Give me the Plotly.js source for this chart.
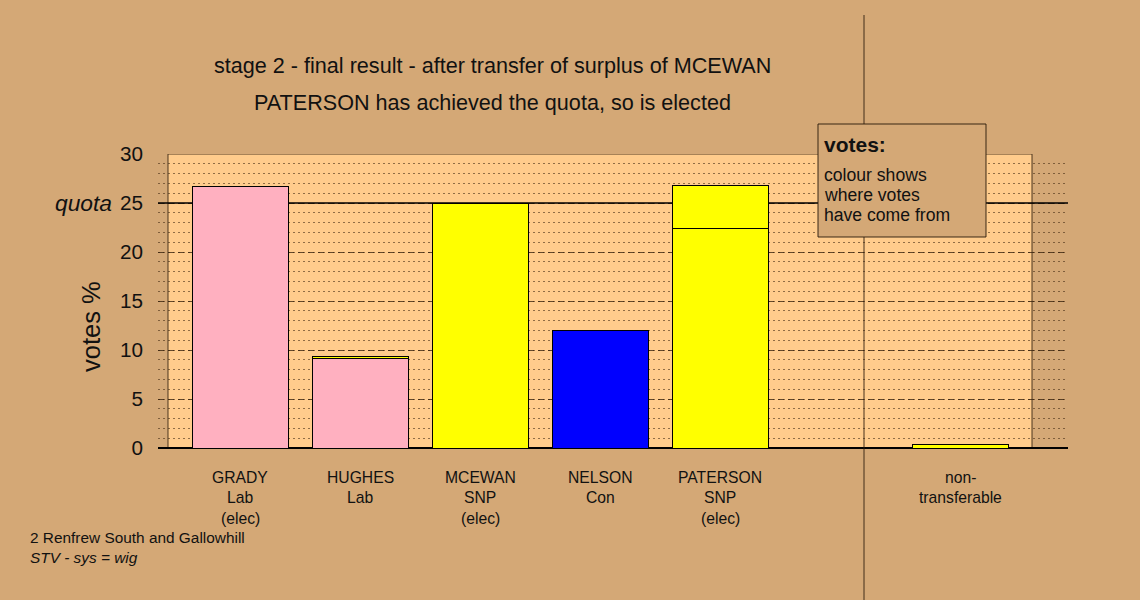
<!DOCTYPE html>
<html>
<head>
<meta charset="utf-8">
<script src="https://cdn.plot.ly/plotly-3.0.1.min.js"></script>
<style>html,body{margin:0;padding:0;background:#D4A876;}</style>
</head>
<body>
<div id="chart" style="width:1140px;height:600px;"></div>
<script>
// ---- data ----
const categoryPos = [1, 2, 3, 4, 5, 7];
const categoryLines = [
  ["GRADY", "Lab", "(elec)"],
  ["HUGHES", "Lab"],
  ["MCEWAN", "SNP", "(elec)"],
  ["NELSON", "Con"],
  ["PATERSON", "SNP", "(elec)"],
  ["non-", "transferable"]
];
const baseVotes = [26.7, 9.1, 25.0, 11.95, 22.4, null];
const baseColours = ["#FFB0C0", "#FFB0C0", "#FFFF00", "#0000FF", "#FFFF00", "#FFFF00"];
const transferVotes = [null, 0.25, null, 0.08, 4.4, 0.35];
const transferColour = "#FFFF00";
const quota = 25;
const yTicks = [0, 5, 10, 15, 20, 25, 30];
const titleLines = ["stage 2 - final result - after transfer of surplus of MCEWAN",
                    "PATERSON has achieved the quota, so is elected"];
const legendTitle = "votes:";
const legendLines = ["colour shows", "where votes", "have come from"];
const footLines = ["2 Renfrew South and Gallowhill", "<i>STV - sys = wig</i>"];

// ---- helpers (pixel -> paper) ----
const L = 158, R = 1068, T = 154, B = 448;
const px = x => (x - L) / (R - L);
const py = y => (B - y) / (B - T);
const FONT = "Liberation Sans, Arial, sans-serif";
const INK = "#111111";
const xRange = [1 - 82 / 120, 7.9];

const traces = [
  {
    type: "bar", x: categoryPos, y: baseVotes, width: 0.8,
    marker: {color: baseColours, line: {color: "#000", width: 1}},
    hoverinfo: "skip"
  },
  {
    type: "bar", x: categoryPos, y: transferVotes, width: 0.8,
    marker: {color: transferColour, line: {color: "#000", width: 1}},
    hoverinfo: "skip"
  }
];

const annotations = [];
titleLines.forEach((t, i) => annotations.push({
  text: t, xref: "paper", yref: "paper", x: px(492), y: py(66 + 36 * i),
  xanchor: "center", yanchor: "middle", showarrow: false,
  font: {family: FONT, size: 21.6, color: INK}
}));
categoryLines.forEach((lines, c) => lines.forEach((t, i) => annotations.push({
  text: t, xref: "x", yref: "paper", x: categoryPos[c], y: 0,
  xanchor: "center", yanchor: "middle", yshift: -(29 + 20.5 * i), showarrow: false,
  font: {family: FONT, size: 15.7, color: INK}
})));
annotations.push({
  text: "votes %", xref: "paper", yref: "paper", x: px(91), y: py(327),
  textangle: -90, xanchor: "center", yanchor: "middle", showarrow: false,
  font: {family: FONT, size: 25.5, color: INK}
});
annotations.push({
  text: "<i>quota</i>", xref: "paper", yref: "y", x: px(114), y: quota,
  xanchor: "right", yanchor: "middle", showarrow: false,
  font: {family: FONT, size: 22.8, color: INK}
});
annotations.push({
  text: "<b>" + legendTitle + "</b>", xref: "paper", yref: "paper", x: px(822), y: py(144),
  xanchor: "left", yanchor: "middle", showarrow: false,
  font: {family: FONT, size: 21, color: INK}
});
legendLines.forEach((t, i) => annotations.push({
  text: t, xref: "paper", yref: "paper", x: px(822), y: py(175 + 20 * i),
  xanchor: "left", yanchor: "middle", align: "left", showarrow: false,
  font: {family: FONT, size: 17.6, color: INK}
}));
footLines.forEach((t, i) => annotations.push({
  text: t, xref: "paper", yref: "paper", x: px(28), y: py(537 + 20 * i),
  xanchor: "left", yanchor: "middle", showarrow: false,
  font: {family: FONT, size: 15.4, color: INK}
}));

const shapes = [
  {type: "rect", layer: "below", xref: "x", yref: "y", x0: 0.4, x1: 7.6, y0: 0, y1: 30,
   fillcolor: "#FFCC8C", line: {color: "rgba(60,40,20,0.9)", width: 1}},
  {type: "line", layer: "between", xref: "x", yref: "y", x0: xRange[0], x1: xRange[1], y0: quota, y1: quota,
   line: {color: "#000", width: 1.5}},
  {type: "line", layer: "above", xref: "x", yref: "paper", x0: 6.2, x1: 6.2, y0: py(600), y1: py(15),
   line: {color: "rgba(40,25,10,0.85)", width: 1}},
  {type: "rect", layer: "above", xref: "paper", yref: "paper", x0: px(818), x1: px(986), y0: py(237), y1: py(124),
   fillcolor: "#D4A876", line: {color: "rgba(40,25,10,0.9)", width: 1}}
];

const layout = {
  width: 1140, height: 600,
  margin: {l: L, r: 1140 - R, t: T, b: 600 - B, pad: 0},
  paper_bgcolor: "#D4A876", plot_bgcolor: "#D4A876",
  barmode: "stack", showlegend: false,
  font: {family: FONT, color: INK},
  xaxis: {range: xRange, showgrid: false, zeroline: false,
          showticklabels: false, ticks: "", showline: false, fixedrange: true},
  yaxis: {range: [0, 30], tickvals: yTicks, ticks: "", showline: false,
          showgrid: true, gridcolor: "rgba(50,30,10,0.75)", griddash: "6px,4px", gridwidth: 1,
          minor: {dtick: 1, showgrid: true, gridcolor: "rgba(70,45,20,0.6)", griddash: "2px,3px", gridwidth: 1},
          zeroline: true, zerolinecolor: "#000", zerolinewidth: 1.5,
          ticklabelstandoff: 14, tickfont: {family: FONT, size: 20.7, color: INK}, fixedrange: true},
  shapes: shapes,
  annotations: annotations
};

Plotly.newPlot("chart", traces, layout, {displayModeBar: false, staticPlot: true});
</script>
</body>
</html>
